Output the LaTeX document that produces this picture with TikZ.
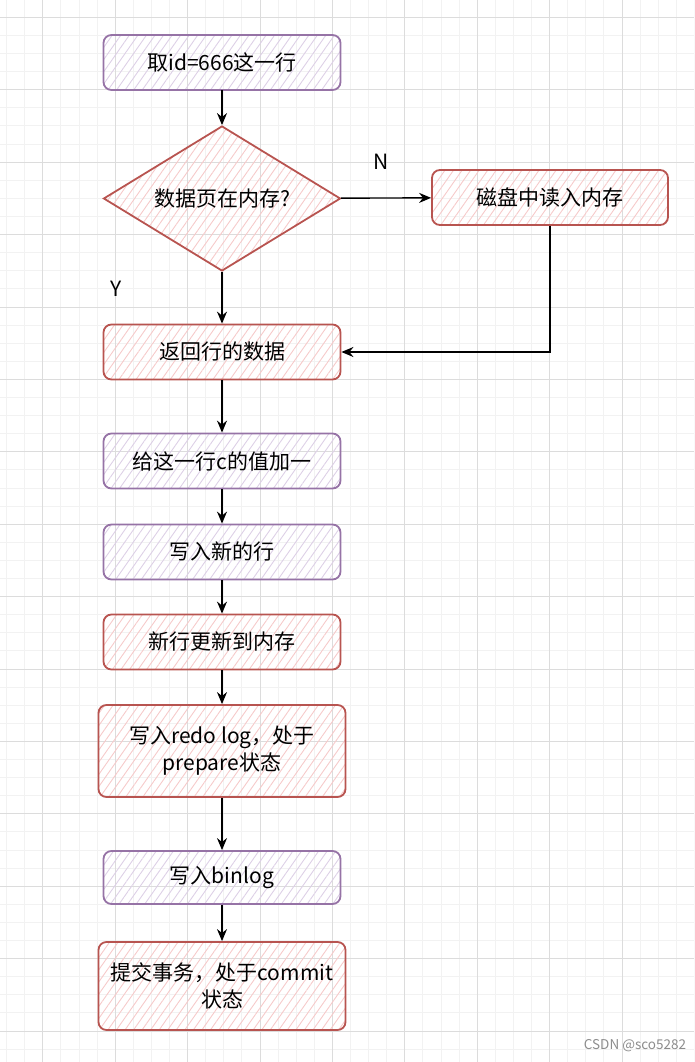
\documentclass[tikz,border=0pt]{standalone}
\usepackage{fontspec}
\setmainfont{Noto Sans CJK SC}
\usepackage{tikz}
\usetikzlibrary{positioning}
\usetikzlibrary{shapes.geometric}
\usetikzlibrary{arrows.meta}
\usetikzlibrary{patterns.meta}

\definecolor{purpleline}{HTML}{9673A6}
\definecolor{purplehatch}{HTML}{DDD0E6}
\definecolor{redline}{HTML}{B85450}
\definecolor{redhatch}{HTML}{F6CACA}
\definecolor{minorgrid}{HTML}{F2F2F2}
\definecolor{majorgrid}{HTML}{DCDCDC}

\tikzset{
  boxtext/.style={font=\fontsize{21}{27}\selectfont, align=center, inner sep=0pt},
  purplebox/.style={boxtext, draw=purpleline, line width=1.8pt, rounded corners=8pt,
    pattern={Lines[angle=55,distance=7pt,line width=0.9pt]}, pattern color=purplehatch,
    minimum width=237pt, minimum height=55pt},
  redbox/.style={boxtext, draw=redline, line width=1.8pt, rounded corners=8pt,
    pattern={Lines[angle=55,distance=7pt,line width=0.9pt]}, pattern color=redhatch,
    minimum width=237pt, minimum height=55pt},
  decision/.style={boxtext, diamond, draw=redline, line width=1.8pt,
    pattern={Lines[angle=55,distance=7pt,line width=0.9pt]}, pattern color=redhatch,
    shape aspect=1.63, minimum width=237pt, minimum height=145pt},
  flow/.style={-{Stealth[length=12pt,width=10pt]}, line width=1.4pt},
}

\begin{document}
\begin{tikzpicture}[x=1pt,y=-1pt]
\useasboundingbox (0,0) rectangle (694,1062);
% grid
\begin{scope}
\clip (0,0) rectangle (694,1062);
\foreach \i in {0,...,38} {
  \draw[minorgrid, line width=0.8pt] (6.5+18.1*\i,0) -- (6.5+18.1*\i,1062);
}
\foreach \i in {0,...,57} {
  \draw[minorgrid, line width=0.8pt] (0,17.3+18.1*\i) -- (694,17.3+18.1*\i);
}
\foreach \i in {0,...,9} {
  \draw[majorgrid, line width=0.8pt] (42.7+72.4*\i,0) -- (42.7+72.4*\i,1062);
}
\foreach \i in {0,...,14} {
  \draw[majorgrid, line width=0.8pt] (0,17.3+72.4*\i) -- (694,17.3+72.4*\i);
}
\end{scope}

% flow
\node[purplebox] (takerow) at (222,62.5) {取id=666这一行};
\node[decision] (inmem) at (222,198.5) {数据页在内存?};
\node[redbox, minimum width=236pt] (readdisk) at (550,197.5) {磁盘中读入内存};
\node[redbox] (retrow) at (222,352) {返回行的数据};
\node[purplebox] (addone) at (222,461) {给这一行c的值加一};
\node[purplebox] (writenew) at (222,552) {写入新的行};
\node[redbox] (updmem) at (222,642) {新行更新到内存};
\node[redbox, minimum width=247pt, minimum height=92pt] (redolog) at (222,751) {写入redo log，处于\\prepare状态};
\node[purplebox, minimum height=53pt] (binlog) at (222,877.5) {写入binlog};
\node[redbox, minimum width=247pt, minimum height=88pt] (commit) at (222,986) {提交事务，处于commit\\状态};

\node[boxtext] (nlabel) at (381,162) {N};
\node[boxtext] (ylabel) at (116,289) {Y};
\node[font=\fontsize{13.5}{15}\selectfont, text=black!45, inner sep=0pt] (mark) at (635,1046) {CSDN @sco5282};

\draw[flow] (takerow) -- (inmem);
\draw[flow] (inmem) -- (readdisk);
\draw[flow] (inmem) -- (retrow);
\draw[flow] (readdisk.south) |- (retrow.east);
\draw[flow] (retrow) -- (addone);
\draw[flow] (addone) -- (writenew);
\draw[flow] (writenew) -- (updmem);
\draw[flow] (updmem) -- (redolog);
\draw[flow] (redolog) -- (binlog);
\draw[flow] (binlog) -- (commit);
\end{tikzpicture}
\end{document}
